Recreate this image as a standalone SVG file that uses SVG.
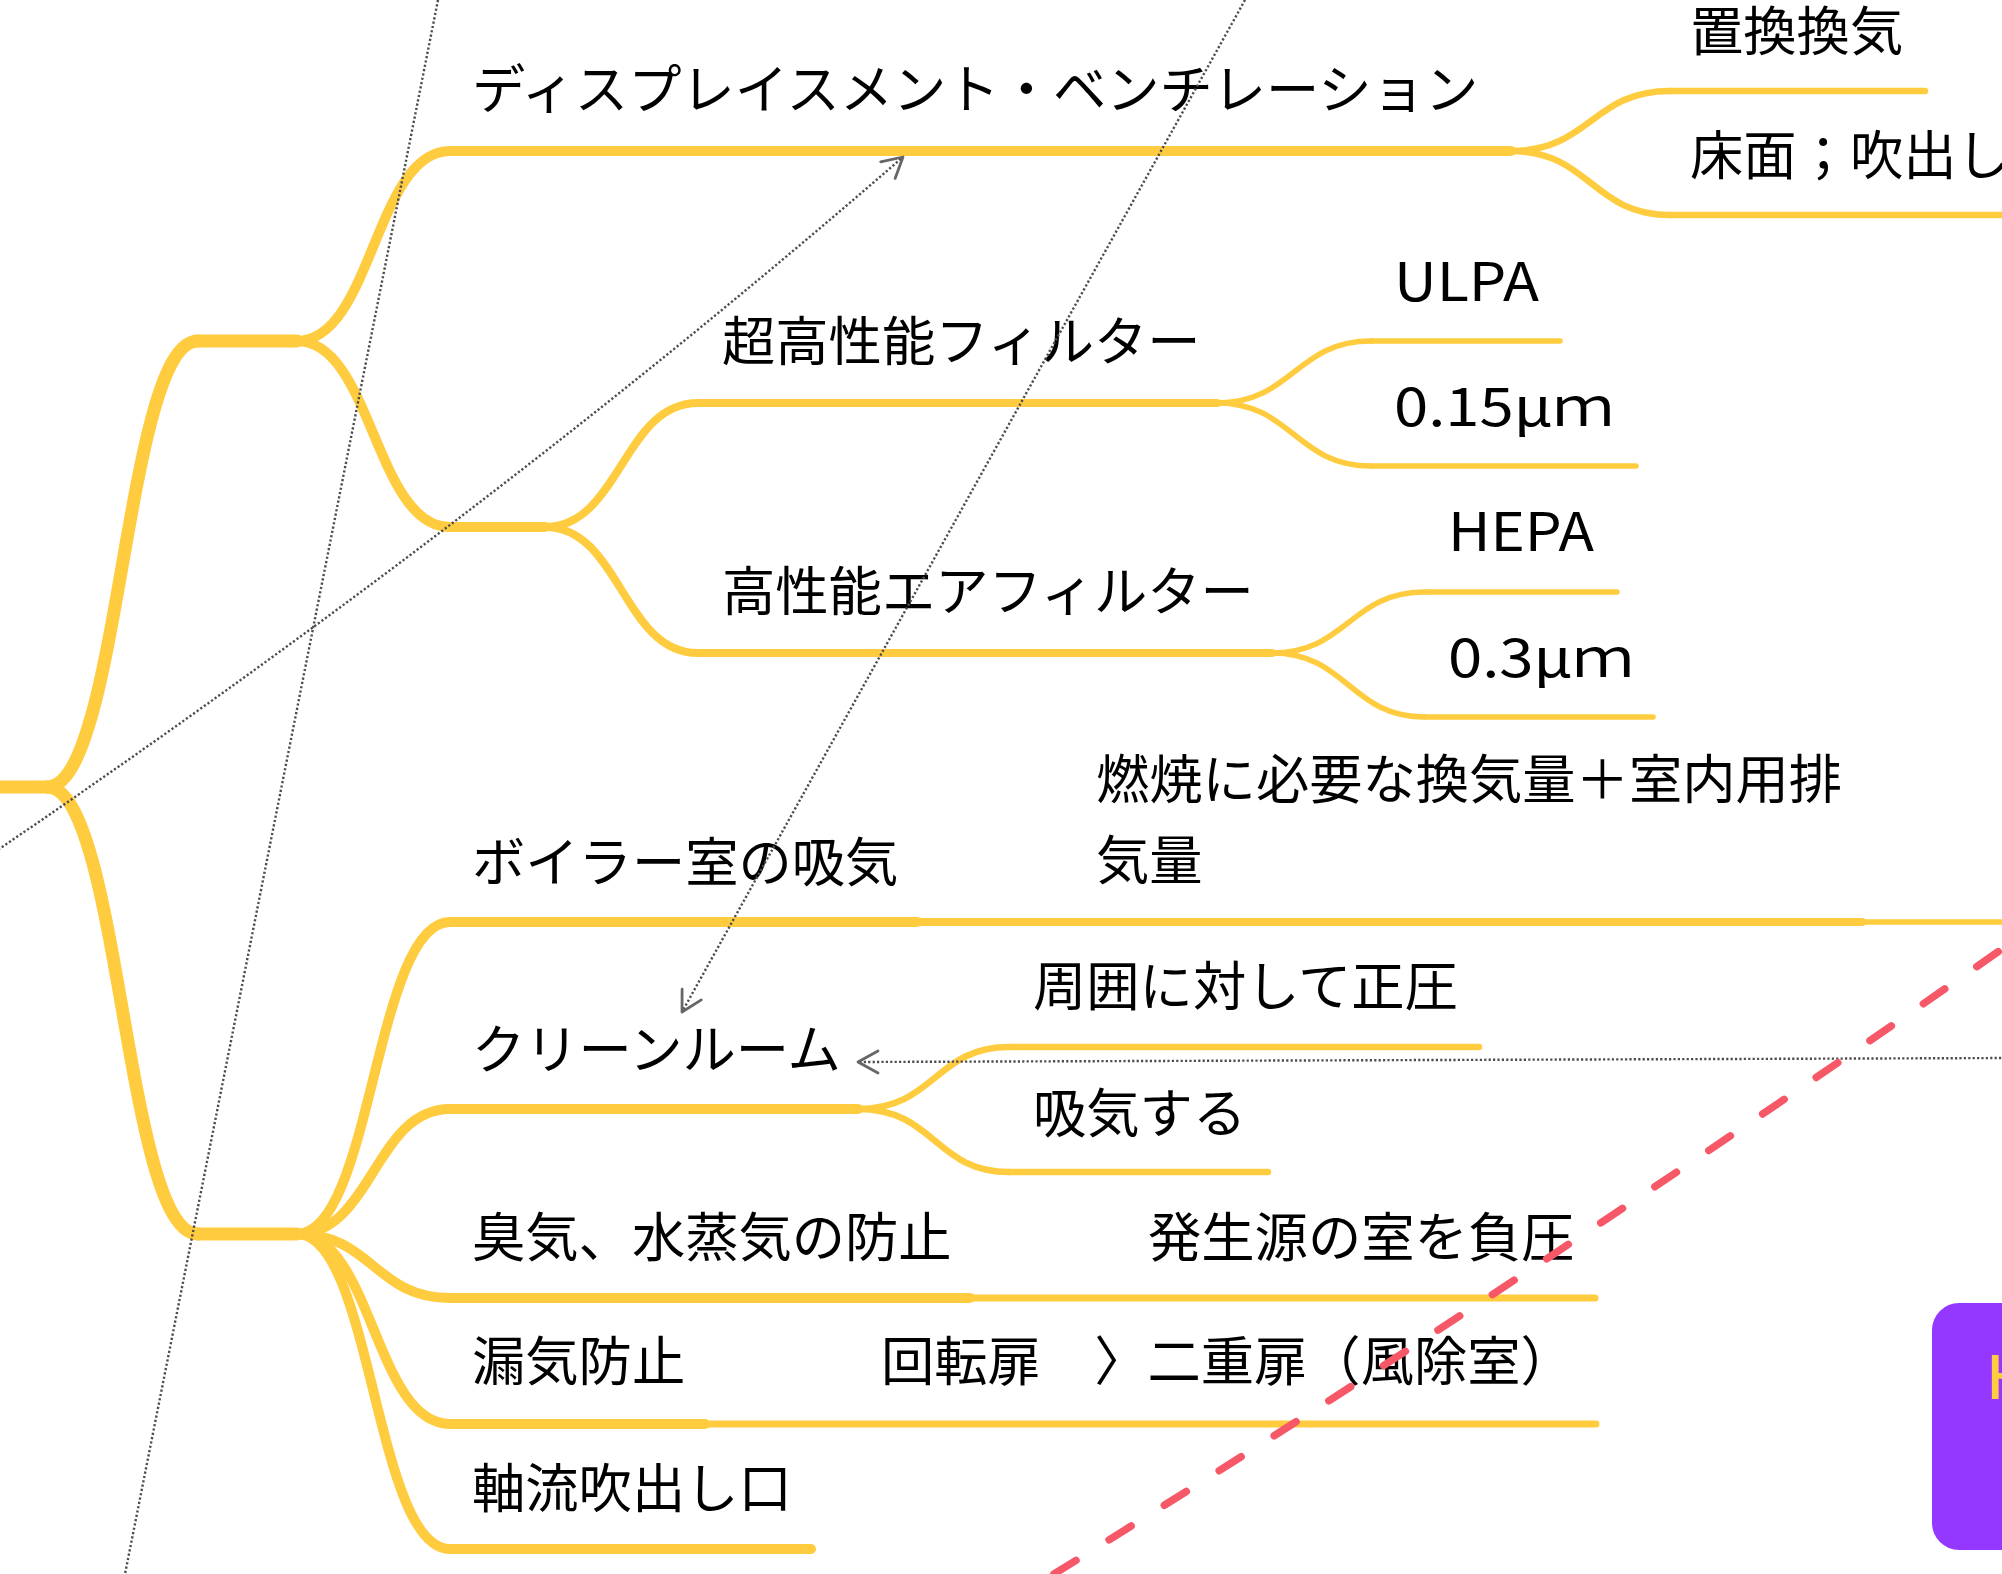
<svg xmlns="http://www.w3.org/2000/svg" width="2002" height="1574" viewBox="0 0 2002 1574">
<style>
.br{fill:none;stroke:#FFCB3F;stroke-linecap:round;stroke-linejoin:round}
.w13{stroke-width:13}.w10{stroke-width:10}.w8{stroke-width:8}.w7{stroke-width:7}.w6{stroke-width:6.5}.w5{stroke-width:5.5}
.t{font-family:"Noto Sans CJK JP","Noto Sans",sans-serif;font-size:53.3px;fill:#000}
.rel{fill:none;stroke:#4d4d4d;stroke-width:2.4;stroke-dasharray:2.2 2.2}
.bnd{fill:none;stroke:#F75868;stroke-width:7.5;stroke-linecap:round;stroke-dasharray:26 39}
</style>
<defs>
<marker id="arr" markerUnits="userSpaceOnUse" markerWidth="30" markerHeight="30" viewBox="-25 -15 30 30" refX="0" refY="0" orient="auto" overflow="visible">
<path d="M-20,-11 L0,0 L-20,11" fill="none" stroke="#666" stroke-width="2.8" stroke-linecap="round" stroke-linejoin="round"/>
</marker>
</defs>
<rect width="2002" height="1574" fill="#fff"/>
<g id="connectors">
<path class="br w13" d="M47,787 C120,787 125,341 198,341"/>
<path class="br w13" d="M47,787 C120,787 125,1234 198,1234"/>
<path class="br w10" d="M297,341 C372,341 375,151 450,151"/>
<path class="br w10" d="M297,341 C372,341 375,527 450,527"/>
<path class="br w8" d="M545,527 C620,527 623,403 698,403"/>
<path class="br w8" d="M545,527 C620,527 623,653 698,653"/>
<path class="br w5" d="M1217,403 C1292,403 1296,341 1371,341"/>
<path class="br w5" d="M1217,403 C1292,403 1296,466 1371,466"/>
<path class="br w5" d="M1272,653 C1347,653 1350,592 1425,592"/>
<path class="br w5" d="M1272,653 C1347,653 1350,717 1425,717"/>
<path class="br w6" d="M1511,151 C1590,151 1592,91 1670,91"/>
<path class="br w6" d="M1511,151 C1590,151 1592,215 1670,215"/>
<path class="br w10" d="M297,1234 C372,1234 375,922 450,922"/>
<path class="br w10" d="M297,1234 C372,1234 375,1109 450,1109"/>
<path class="br w10" d="M297,1234 C372,1234 375,1298 450,1298"/>
<path class="br w10" d="M297,1234 C372,1234 375,1424 450,1424"/>
<path class="br w10" d="M297,1234 C372,1234 375,1549 450,1549"/>
<path class="br w6" d="M858,1109 C935,1109 935,1047 1009,1047"/>
<path class="br w6" d="M858,1109 C935,1109 935,1172 1009,1172"/>
</g>
<g id="node-root"><path class="br w13" d="M-20,787 H47"/></g>
<g id="node-main1"><path class="br w13" d="M198,341 H297"/></g>
<g id="node-main2"><path class="br w13" d="M198,1234 H297"/></g>
<g id="node-displacement"><path class="br w10" d="M450,151 H1511"/><text class="t" x="472" y="109">ディスプレイスメント・ベンチレーション</text></g>
<g id="node-chikan"><path class="br w6" d="M1670,91 H1925"/><text class="t" x="1690" y="51">置換換気</text></g>
<g id="node-yuka"><path class="br w6" d="M1670,215 H2030"/><text class="t" x="1690" y="175">床面；吹出し</text></g>
<g id="node-filters"><path class="br w10" d="M450,527 H545"/></g>
<g id="node-ulpa-filter"><path class="br w8" d="M698,403 H1217"/><text class="t" x="722" y="361">超高性能フィルター</text></g>
<g id="node-ulpa"><path class="br w5" d="M1371,341 H1560"/><text class="t" x="1394" y="301" textLength="145" lengthAdjust="spacingAndGlyphs">ULPA</text></g>
<g id="node-015"><path class="br w5" d="M1371,466 H1636"/><text class="t" x="1394" y="426" textLength="220" lengthAdjust="spacingAndGlyphs">0.15μｍ</text></g>
<g id="node-hepa-filter"><path class="br w8" d="M698,653 H1272"/><text class="t" x="722" y="611">高性能エアフィルター</text></g>
<g id="node-hepa"><path class="br w5" d="M1425,592 H1617"/><text class="t" x="1448" y="551" textLength="146" lengthAdjust="spacingAndGlyphs">HEPA</text></g>
<g id="node-03"><path class="br w5" d="M1425,717 H1653"/><text class="t" x="1448" y="677" textLength="186" lengthAdjust="spacingAndGlyphs">0.3μｍ</text></g>
<g id="node-boiler"><path class="br w10" d="M450,922 H917"/><text class="t" x="472" y="882">ボイラー室の吸気</text></g>
<g id="node-nensho"><path class="br w8" d="M917,922 H1862"/><text class="t" x="1096" y="799">燃焼に必要な換気量＋室内用排</text><text class="t" x="1096" y="880">気量</text></g>
<g id="node-boiler-next"><path class="br w5" d="M1862,922 H2030"/></g>
<g id="node-clean"><path class="br w10" d="M450,1109 H858"/><text class="t" x="472" y="1069">クリーンルーム</text></g>
<g id="node-seiatsu"><path class="br w6" d="M1009,1047 H1479"/><text class="t" x="1033" y="1006">周囲に対して正圧</text></g>
<g id="node-kyuki"><path class="br w6" d="M1009,1172 H1268"/><text class="t" x="1033" y="1133">吸気する</text></g>
<g id="node-shuki"><path class="br w10" d="M450,1298 H970"/><text class="t" x="472" y="1257">臭気、水蒸気の防止</text></g>
<g id="node-fuatsu"><path class="br w7" d="M970,1298 H1595"/><text class="t" x="1148" y="1257">発生源の室を負圧</text></g>
<g id="node-roki"><path class="br w10" d="M450,1424 H705"/><text class="t" x="472" y="1381">漏気防止</text></g>
<g id="node-tobira"><path class="br w7" d="M705,1424 H1596"/><text class="t" x="881" y="1381">回転扉　〉二重扉（風除室）</text></g>
<g id="node-jiku"><path class="br w10" d="M450,1549 H811"/><text class="t" x="472" y="1508">軸流吹出し口</text></g>
<g id="node-purple"><rect x="1932" y="1303" width="140" height="247" rx="27" fill="#9438FF"/><text x="1986" y="1399" font-family="'Noto Sans',sans-serif" font-size="62" font-weight="500" fill="#FFCB3F">H</text></g>
<g id="relations">
<path class="rel" d="M-20,862 C290,652 600,420 903,157" marker-end="url(#arr)"/>
<path class="rel" d="M438,0 L125,1574"/>
<path class="rel" d="M1245,0 L682,1012" marker-end="url(#arr)"/>
<path class="rel" d="M2010,1058 L858,1062" marker-end="url(#arr)"/>
</g>
<g id="boundary"><path class="bnd" d="M1054,1574 Q1520,1286 2002,949"/></g>
</svg>
